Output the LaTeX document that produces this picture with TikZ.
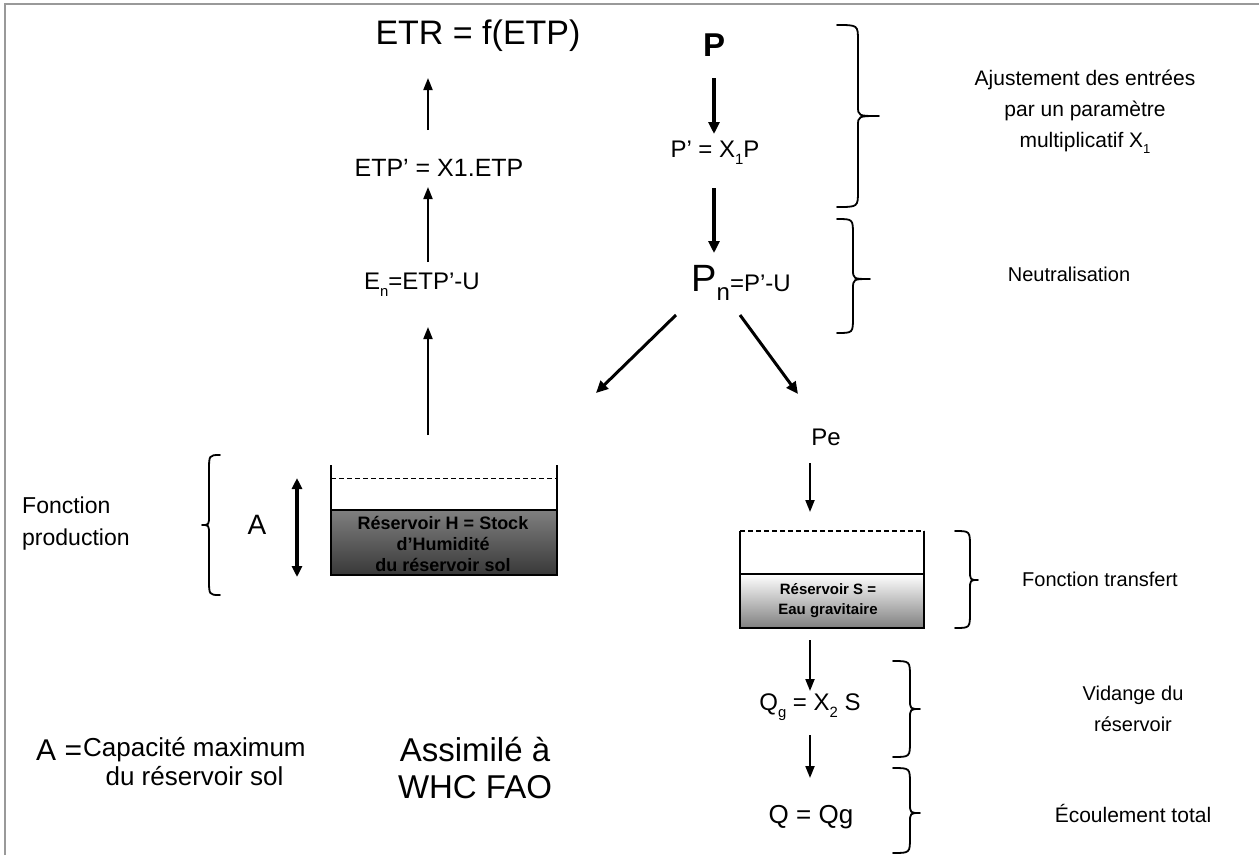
\documentclass[tikz,border=0pt]{standalone}
\usepackage{fontspec}
\setmainfont{Liberation Sans}
\usetikzlibrary{arrows.meta}
\newcommand\fs[2]{\fontsize{#1}{#2}\selectfont}
\newcommand\dn[1]{\raisebox{-0.3em}{\scalebox{0.62}{#1}}}
\newcommand\bracepath[6]{\draw[brc] (#1,#4) .. controls (#2,#4) .. (#2,{#4+16}) -- (#2,{#5-10}) .. controls (#2,#5) .. (#3,#5) .. controls (#2,#5) .. (#2,{#5+10}) -- (#2,{#6-16}) .. controls (#2,#6) .. (#1,#6);}
\begin{document}
\begin{tikzpicture}[x=1pt,y=-1pt,
  txt/.style={inner sep=0pt, align=center},
  thinarr/.style={line width=2pt, -{Triangle[length=12pt,width=9pt]}},
  thickarr/.style={line width=3.5pt, -{Triangle[length=12pt,width=11pt]}},
  brc/.style={line width=1.8pt, line cap=round, line join=round},
  frame/.style={line width=2pt, draw=black!40}]
\useasboundingbox (0,0) rectangle (1259,855);
\draw[frame] (5,855) -- (5,4) -- (1259,4);

% left column
\node[txt, font=\fs{34}{40}] (etr) at (478,36) {ETR = f(ETP)};
\node[txt, font=\fs{25}{28}] (etpp) at (439,168) {ETP’ = X1.ETP};
\node[txt, font=\fs{24}{28}] (en) at (422,285) {E\dn{n}=ETP’-U};
\coordinate (c1) at (428,130); \coordinate (c2) at (428,78);
\coordinate (c3) at (428,262); \coordinate (c4) at (428,187);
\coordinate (c5) at (428,435); \coordinate (c6) at (428,327);
\draw[thinarr] (c1) -- (c2);
\draw[thinarr] (c3) -- (c4);
\draw[thinarr] (c5) -- (c6);

% P column
\node[txt, font=\fs{33}{38}\bfseries] (p) at (714,45) {P};
\node[txt, font=\fs{24}{28}] (pp) at (715,153) {P’ = X\dn{1}P};
\node[txt, font=\fs{24}{28}] (pn) at (741,283) {{\fs{38}{40}P}\raisebox{-0.4em}{\fs{24}{28}n}=P’-U};
\coordinate (d1) at (714,78); \coordinate (d2) at (714,134);
\coordinate (d3) at (714,188); \coordinate (d4) at (714,253);
\draw[thickarr] (d1) -- (d2);
\draw[thickarr] (d3) -- (d4);
\coordinate (e1) at (676,315); \coordinate (e2) at (596,393);
\coordinate (e3) at (740,315); \coordinate (e4) at (798,394);
\draw[thickarr, line width=3pt] (e1) -- (e2);
\draw[thickarr, line width=3pt] (e3) -- (e4);

\node[txt, font=\fs{24}{28}] (pe) at (826,437) {Pe};
\coordinate (f1) at (810,463); \coordinate (f2) at (810,512);
\draw[thinarr] (f1) -- (f2);

% right reservoir
\shade[top color=white, bottom color=black!50] (740,574) rectangle (924,628);
\draw[line width=1.5pt, dashed, dash pattern=on 5pt off 3pt] (740,531) -- (924,531);
\draw[line width=1.5pt] (740,531) -- (740,628) -- (924,628) -- (924,531);
\draw[line width=1.2pt] (740,574) -- (924,574);
\node[txt, font=\fs{15}{20}\bfseries] (rs) at (828,601) {Réservoir S =\\Eau gravitaire};

\coordinate (g1) at (810,640); \coordinate (g2) at (810,691);
\draw[thinarr] (g1) -- (g2);
\node[txt, font=\fs{24}{28}] (qg) at (810,707) {Q\dn{g} = X\dn{2} S};
\coordinate (g3) at (810,735); \coordinate (g4) at (810,778);
\draw[thinarr] (g3) -- (g4);
\node[txt, font=\fs{26}{30}] (q) at (811,817) {Q = Qg};

% left reservoir
\shade[top color=black!50, bottom color=black!78] (331,510) rectangle (557,575);
\draw[line width=1.5pt] (331,465) -- (331,575) -- (557,575) -- (557,465);
\draw[line width=1.2pt] (331,510) -- (557,510);
\draw[line width=1pt, dashed, dash pattern=on 5pt off 3pt] (331,478) -- (557,478);
\node[txt, font=\fs{18}{21}\bfseries] (rh) at (443,544) {Réservoir H = Stock\\d’Humidité\\du réservoir sol};
\coordinate (h1) at (297,478); \coordinate (h2) at (297,577);
\draw[line width=3.5pt, {Triangle[length=11pt,width=10pt]}-{Triangle[length=11pt,width=10pt]}] (h1) -- (h2);
\node[txt, font=\fs{28}{32}] (a) at (257,525) {A};
\node[txt, font=\fs{23}{32}, align=left, anchor=west] (fprod) at (22,524) {Fonction\\production};

% lower left texts
\node[txt, font=\fs{30}{34}, anchor=west] (aeq) at (36,750) {A =};
\node[txt, font=\fs{26}{29}, anchor=west] (acap) at (83,762) {Capacité maximum\\du réservoir sol};
\node[txt, font=\fs{33}{37}] (whc) at (475,768) {Assimilé à\\WHC FAO};

% braces
\bracepath{837}{858}{879}{25}{116}{207}
\bracepath{837}{853}{870}{219}{279}{333}
\bracepath{955}{970}{978}{531}{580}{628}
\bracepath{893}{910}{920}{661}{709}{757}
\bracepath{893}{910}{920}{768}{813}{853}
\bracepath{220}{209}{202}{455}{525}{595}

% right labels
\node[txt, font=\fs{21}{31}] (ajust) at (1085,112) {Ajustement des entrées\\par un paramètre\\multiplicatif X\dn{1}};
\node[txt, font=\fs{20}{31}] (neutr) at (1069,274) {Neutralisation};
\node[txt, font=\fs{20}{31}] (transf) at (1100,579) {Fonction transfert};
\node[txt, font=\fs{20}{31}] (vid) at (1133,709) {Vidange du\\réservoir};
\node[txt, font=\fs{21}{31}] (ecoul) at (1133,813) {Écoulement total};
\end{tikzpicture}
\end{document}
